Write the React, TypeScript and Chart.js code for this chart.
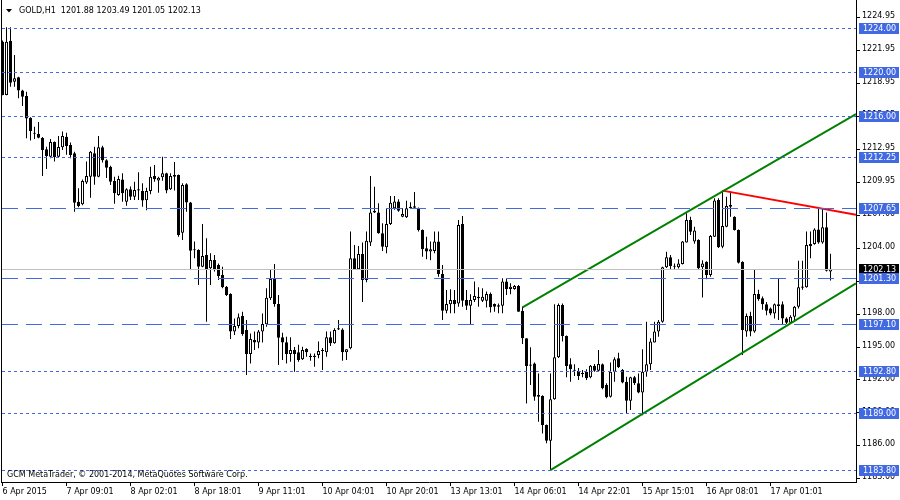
import React, { useEffect, useRef } from "react";
import { Chart, registerables } from "chart.js";

Chart.register(...registerables);

const FONT = "'DejaVu Sans', Verdana, sans-serif";

const TITLE = "GOLD,H1  1201.88 1203.49 1201.05 1202.13";
const COPYRIGHT = "GCM MetaTrader, \u00A9 2001-2014, MetaQuotes Software Corp.";

const OPEN = [1222.78,1217.93,1222.87,1219.14,1219.54,1218.33,1217.84,1215.87,1214.4,1214.38,
1214.02,1213.0,1212.32,1213.65,1212.32,1213.17,1214.14,1213.38,1212.62,1208.22,
1207.98,1209.98,1210.5,1212.62,1210.5,1213.17,1212.0,1211.4,1210.1,1208.83,
1210.25,1208.22,1209.35,1208.68,1209.23,1209.2,1208.35,1209.2,1210.56,1210.14,
1210.44,1210.8,1209.35,1210.65,1210.65,1205.4,1209.8,1208.16,1203.8,1203.83,
1202.31,1203.37,1202.16,1202.92,1202.46,1201.55,1200.49,1199.82,1196.4,1196.91,
1197.82,1196.55,1194.36,1195.64,1195.4,1196.4,1197.06,1199.43,1201.25,1198.91,
1195.88,1195.43,1194.36,1194.73,1194.52,1193.88,1194.82,1194.1,1194.1,1194.27,
1194.64,1194.52,1195.88,1195.34,1196.6,1196.6,1194.52,1194.88,1203.07,1202.07,
1203.46,1201.1,1204.5,1207.4,1207.25,1205.34,1204.07,1206.2,1207.62,1208.23,
1206.86,1206.8,1207.62,1207.8,1207.62,1205.65,1203.98,1203.68,1203.74,1204.59,
1201.64,1198.31,1198.9,1199.28,1198.97,1206.2,1199.28,1198.76,1199.28,1199.58,
1199.2,1199.2,1199.83,1198.92,1198.8,1198.76,1200.95,1200.28,1200.28,1200.55,
1198.28,1195.79,1193.3,1193.5,1190.63,1190.54,1187.9,1186.48,1190.24,1194.06,
1198.82,1196.0,1193.42,1192.9,1192.82,1192.6,1192.76,1192.24,1193.3,1192.85,
1193.42,1191.54,1190.48,1192.76,1193.97,1192.9,1191.85,1190.12,1192.24,1191.7,
1190.85,1192.76,1193.42,1195.4,1196.4,1197.3,1202.25,1203.16,1202.4,1202.25,
1202.55,1204.5,1206.56,1204.6,1204.74,1202.25,1202.76,1201.55,1205.04,1208.38,
1204.13,1205.95,1207.92,1206.86,1205.65,1202.76,1196.4,1197.82,1196.4,1199.82,
1199.43,1198.9,1198.5,1198.06,1198.9,1198.9,1197.6,1197.2,1197.76,1198.67,
1200.4,1200.43,1204.2,1204.37,1205.7,1204.5,1205.9,1201.88];

const HIGH = [1222.9,1224.09,1224.09,1221.57,1219.6,1218.4,1218.23,1215.9,1215.05,1215.47,
1214.1,1213.23,1213.93,1213.7,1214.2,1214.6,1214.5,1213.6,1212.77,1209.44,
1210.25,1211.87,1212.83,1213.23,1214.2,1213.32,1212.08,1211.5,1210.5,1210.59,
1210.8,1209.44,1209.6,1210.04,1210.9,1209.9,1209.5,1211.4,1211.56,1210.5,
1212.32,1210.86,1210.8,1211.83,1210.7,1209.89,1209.9,1208.2,1204.59,1203.9,
1206.2,1204.89,1203.52,1203.37,1202.6,1202.3,1200.55,1199.9,1197.6,1198.06,
1198.2,1197.46,1196.24,1196.4,1196.55,1198.06,1200.34,1202.07,1202.55,1199.73,
1196.3,1195.94,1195.88,1195.0,1195.2,1195.03,1194.88,1194.42,1194.4,1195.49,
1194.9,1196.4,1196.4,1196.7,1197.46,1196.7,1194.8,1205.5,1204.28,1204.19,
1204.5,1205.5,1210.56,1209.59,1208.07,1206.26,1207.62,1208.74,1208.74,1208.44,
1207.62,1208.3,1208.17,1209.1,1207.7,1205.7,1205.04,1204.59,1205.5,1205.5,
1202.46,1200.19,1200.25,1200.19,1206.56,1206.92,1200.19,1199.8,1200.95,1200.43,
1200.34,1200.04,1199.95,1198.95,1198.97,1201.25,1201.25,1200.8,1200.65,1200.65,
1198.67,1195.8,1194.97,1193.6,1192.6,1190.6,1187.95,1192.6,1198.88,1198.97,
1198.97,1196.05,1193.97,1193.42,1193.1,1192.9,1192.97,1193.36,1193.45,1194.73,
1193.5,1191.7,1193.58,1194.06,1194.48,1193.0,1192.3,1192.3,1192.36,1192.6,
1194.8,1197.3,1195.79,1197.3,1197.46,1202.3,1203.67,1203.37,1202.6,1202.98,
1204.65,1207.16,1206.86,1205.95,1204.8,1202.9,1202.8,1205.2,1208.53,1208.53,
1209.23,1208.68,1209.14,1206.9,1205.7,1202.8,1198.06,1198.2,1202.07,1200.2,
1199.6,1199.1,1198.6,1198.97,1201.25,1199.13,1197.7,1197.9,1198.73,1202.86,
1202.86,1205.5,1205.5,1205.8,1207.62,1207.62,1207.25,1203.49];

const LOW = [1217.9,1217.9,1218.69,1218.69,1217.63,1216.93,1213.99,1213.78,1213.93,1213.99,
1210.56,1211.2,1212.17,1211.87,1212.2,1212.93,1212.5,1212.17,1207.3,1207.71,
1207.9,1209.83,1208.59,1209.77,1210.45,1211.8,1210.38,1209.74,1208.04,1208.77,
1208.22,1207.86,1208.38,1208.38,1208.38,1207.77,1207.44,1208.9,1210.04,1209.04,
1210.13,1208.98,1209.29,1209.23,1205.04,1204.74,1207.3,1202.0,1203.07,1200.64,
1202.25,1197.3,1200.64,1201.86,1201.1,1200.34,1199.65,1195.73,1196.1,1196.7,
1196.03,1192.45,1193.51,1194.73,1194.88,1195.4,1196.85,1199.28,1198.67,1193.36,
1193.82,1193.51,1193.67,1192.76,1193.67,1193.82,1194.12,1193.76,1193.2,1193.97,
1192.9,1194.12,1195.09,1195.3,1196.55,1193.76,1193.82,1194.8,1202.0,1202.0,
1199.1,1200.9,1204.19,1207.2,1205.3,1203.74,1203.53,1206.1,1207.5,1207.3,
1206.8,1206.75,1207.6,1207.6,1205.5,1203.22,1202.98,1202.9,1203.53,1201.4,
1197.46,1198.07,1198.07,1198.07,1198.67,1198.67,1198.37,1197.0,1199.1,1198.67,
1199.1,1198.6,1198.13,1198.2,1198.07,1198.07,1199.73,1199.8,1200.2,1198.2,
1195.27,1189.87,1191.54,1190.12,1188.2,1187.14,1186.24,1183.8,1190.2,1194.0,
1195.49,1192.24,1191.85,1192.36,1192.0,1192.24,1192.0,1192.15,1192.76,1192.76,
1191.15,1190.33,1190.4,1191.85,1193.1,1191.7,1188.9,1189.27,1191.54,1190.8,
1188.78,1192.3,1192.9,1195.4,1195.94,1197.2,1202.2,1202.07,1202.07,1202.15,
1202.5,1204.5,1205.19,1204.4,1202.07,1199.5,1201.16,1201.4,1205.0,1204.0,
1203.98,1205.9,1206.86,1205.6,1202.6,1194.27,1195.94,1195.98,1196.3,1199.2,
1198.4,1197.9,1197.9,1197.6,1197.46,1197.1,1197.1,1197.1,1197.46,1198.5,
1200.2,1200.4,1203.07,1204.3,1204.4,1204.4,1201.86,1201.05];

const CLOSE = [1217.93,1222.78,1219.05,1219.45,1218.33,1217.78,1215.8,1214.65,1214.5,1214.05,
1212.93,1212.38,1213.65,1212.26,1213.2,1214.2,1213.29,1212.47,1208.13,1207.83,
1210.1,1210.56,1212.77,1210.5,1213.17,1212.0,1211.32,1210.04,1208.98,1210.28,
1208.98,1209.35,1208.68,1209.29,1209.35,1208.32,1209.2,1210.5,1210.26,1210.4,
1210.8,1209.23,1210.56,1210.5,1205.19,1209.74,1208.16,1203.77,1203.9,1202.31,
1203.28,1202.1,1202.92,1202.1,1201.46,1200.43,1199.73,1196.4,1196.91,1197.7,
1196.18,1194.36,1195.73,1195.4,1196.4,1197.1,1199.49,1201.19,1198.91,1195.85,
1195.4,1194.36,1194.73,1194.36,1193.82,1194.73,1194.52,1194.2,1194.2,1194.64,
1194.7,1195.88,1195.34,1196.55,1196.7,1194.52,1194.79,1203.07,1202.1,1203.46,
1201.1,1204.68,1207.25,1207.25,1205.34,1204.13,1206.2,1208.13,1208.23,1207.4,
1207.1,1207.62,1207.77,1207.68,1205.65,1203.89,1203.68,1203.89,1204.59,1201.64,
1198.31,1198.92,1199.28,1198.9,1206.1,1199.2,1198.76,1199.28,1199.64,1199.43,
1199.58,1199.83,1198.61,1198.67,1198.67,1200.95,1200.28,1200.49,1200.55,1198.2,
1195.79,1193.27,1193.4,1190.48,1190.48,1187.9,1186.48,1190.24,1194.06,1198.82,
1196.0,1193.27,1192.97,1192.85,1192.36,1192.55,1192.15,1193.3,1192.85,1193.45,
1191.24,1190.42,1192.76,1193.88,1193.15,1191.76,1190.12,1192.24,1191.7,1190.85,
1192.76,1193.42,1195.49,1196.4,1197.3,1202.25,1203.16,1202.37,1202.3,1202.61,
1204.59,1206.56,1205.49,1205.6,1202.16,1202.6,1201.55,1205.1,1208.32,1204.07,
1206.0,1207.83,1207.77,1205.65,1202.67,1196.55,1197.82,1196.4,1199.82,1199.34,
1198.9,1198.3,1198.06,1198.9,1198.73,1197.6,1197.2,1197.76,1198.67,1200.43,
1200.5,1204.28,1204.37,1205.7,1204.5,1205.9,1201.95,1202.13];

// x-axis tick labels (bar index -> text)
const TICK_INDEX = [0, 16, 32, 48, 64, 80, 96, 112, 128, 144, 160, 176, 192];
const TICK_LABELS = ["6 Apr 2015", "7 Apr 09:01", "8 Apr 02:01", "8 Apr 18:01", "9 Apr 11:01",
  "10 Apr 04:01", "10 Apr 20:01", "13 Apr 13:01", "14 Apr 06:01", "14 Apr 22:01",
  "15 Apr 15:01", "16 Apr 08:01", "17 Apr 01:01"];

// price-axis tick labels
const Y_TICKS = [1224.95, 1221.95, 1218.95, 1215.95, 1212.95, 1209.95, 1207.0, 1204.0,
  1201.0, 1198.0, 1195.0, 1192.0, 1189.0, 1186.0, 1183.0];

// horizontal levels
const DOT_LEVELS = [1224.0, 1220.0, 1216.0, 1212.25, 1192.8, 1189.0, 1183.8];
const DASH_LEVELS = [1207.65, 1201.3, 1197.1];
const BID = 1202.13;

// trend lines: [barIndex, price]
const CHANNEL_UPPER = [[130, 1198.6], [213.375, 1216.2]];
const CHANNEL_LOWER = [[137, 1183.8], [213.375, 1200.79]];
const RESIST_LINE = [[180, 1209.23], [213.375, 1207.04]];

const X_MIN = -0.125;
const X_MAX = 213.375;
const Y_MIN = 1182.717;
const Y_MAX = 1226.575;

const overlay = {
  id: "mt4overlay",
  afterDatasetsDraw(chart: any) {
    const { ctx, chartArea: a, scales } = chart;
    const y = scales.y;
    ctx.save();
    ctx.beginPath();
    ctx.rect(a.left, a.top, a.right - a.left, a.bottom - a.top);
    ctx.clip();
    ctx.lineWidth = 1;
    const hline = (v: number, color: string, dash: number[]) => {
      const py = Math.round(y.getPixelForValue(v)) + 0.5;
      ctx.strokeStyle = color;
      ctx.setLineDash(dash);
      ctx.beginPath();
      ctx.moveTo(a.left, py);
      ctx.lineTo(a.right, py);
      ctx.stroke();
    };
    hline(BID, "#c0c0c0", []);
    DOT_LEVELS.forEach((v) => hline(v, "#4169e1", [3, 3]));
    DASH_LEVELS.forEach((v) => hline(v, "#4169e1", [16, 8]));
    ctx.restore();
  },
  afterDraw(chart: any) {
    const { ctx, chartArea: a, scales } = chart;
    const y = scales.y;
    ctx.save();
    // left frame
    ctx.strokeStyle = "#000";
    ctx.lineWidth = 1;
    ctx.beginPath();
    ctx.moveTo(a.left - 0.5, a.top);
    ctx.lineTo(a.left - 0.5, a.bottom + 1);
    ctx.stroke();
    ctx.font = "8px " + FONT;
    ctx.textBaseline = "middle";
    ctx.textAlign = "left";
    const box = (v: number, bg: string) => {
      const py = Math.round(y.getPixelForValue(v));
      ctx.fillStyle = bg;
      ctx.fillRect(a.right + 3, py - 5, 900 - a.right - 4, 11);
      ctx.fillStyle = "#fff";
      ctx.fillText(v.toFixed(2), a.right + 7, py + 0.5);
    };
    box(BID, "#000");
    [...DOT_LEVELS, ...DASH_LEVELS].forEach((v) => box(v, "#4169e1"));
    // title
    ctx.fillStyle = "#000";
    ctx.beginPath();
    ctx.moveTo(6, 9);
    ctx.lineTo(12, 9);
    ctx.lineTo(9, 12.5);
    ctx.closePath();
    ctx.fill();
    ctx.fillText(TITLE, 19, 11);
    ctx.fillText(COPYRIGHT, 7, 475);
    ctx.restore();
  },
};

export default function App() {
  const ref = useRef<HTMLCanvasElement | null>(null);
  useEffect(() => {
    document.body.style.margin = "0";
    const canvas = ref.current;
    if (!canvas) return;
    const bodies = OPEN.map((o, i) => ({ x: i, y: [o, CLOSE[i]] }));
    const wicks = LOW.map((l, i) => ({ x: i, y: [l, HIGH[i]] }));
    const bodyColors = OPEN.map((o, i) => (CLOSE[i] >= o ? "#ffffff" : "#000000"));
    const toPts = (arr: number[][]) => arr.map(([x, v]) => ({ x, y: v }));
    const lineDs = (pts: number[][], color: string) => ({
      type: "line",
      data: toPts(pts),
      borderColor: color,
      borderWidth: 2,
      pointRadius: 0,
      fill: false,
      tension: 0,
    });
    const chart = new Chart(canvas, {
      type: "bar",
      data: {
        datasets: [
          lineDs(CHANNEL_UPPER, "#008000"),
          lineDs(CHANNEL_LOWER, "#008000"),
          lineDs(RESIST_LINE, "#ff0000"),
          {
            type: "bar",
            data: bodies,
            backgroundColor: bodyColors,
            borderColor: "#000",
            borderWidth: 1,
            barThickness: 3,
            grouped: false,
            borderSkipped: false,
            minBarLength: 1,
            inflateAmount: 0,
          },
          {
            type: "bar",
            data: wicks,
            backgroundColor: "#000",
            borderWidth: 0,
            barThickness: 1,
            grouped: false,
            borderSkipped: false,
            inflateAmount: 0,
          },
        ] as any,
      },
      options: {
        animation: false,
        responsive: false,
        devicePixelRatio: 1,
        events: [],
        layout: { padding: { left: 2, top: 0, right: 0, bottom: 0 } },
        plugins: { legend: { display: false }, tooltip: { enabled: false }, title: { display: false } },
        scales: {
          x: {
            type: "linear",
            min: X_MIN,
            max: X_MAX,
            offset: false,
            grid: { drawOnChartArea: false, drawTicks: true, tickLength: 4, color: "#000", offset: false },
            border: { display: true, color: "#000" },
            ticks: {
              autoSkip: false,
              maxRotation: 0,
              minRotation: 0,
              align: "start",
              padding: 1,
              color: "#000",
              font: { family: FONT, size: 8 },
              callback: (v: any) => {
                const k = TICK_INDEX.indexOf(Number(v));
                return k >= 0 ? TICK_LABELS[k] : "";
              },
            },
            afterBuildTicks: (s: any) => {
              s.ticks = TICK_INDEX.map((v) => ({ value: v }));
            },
            afterFit: (s: any) => {
              s.height = 18;
              s.paddingLeft = 0;
              s.paddingRight = 0;
            },
          },
          y: {
            type: "linear",
            position: "right",
            min: Y_MIN,
            max: Y_MAX,
            grid: { drawOnChartArea: false, drawTicks: true, tickLength: 4, color: "#000" },
            border: { display: true, color: "#000" },
            ticks: {
              autoSkip: false,
              padding: 2,
              labelOffset: -1.5,
              color: "#000",
              font: { family: FONT, size: 8 },
              callback: (v: any) => Number(v).toFixed(2),
            },
            afterBuildTicks: (s: any) => {
              s.ticks = Y_TICKS.map((v) => ({ value: v }));
            },
            afterFit: (s: any) => {
              s.width = 44;
              s.paddingTop = 0;
              s.paddingBottom = 0;
            },
          },
        },
      } as any,
      plugins: [overlay],
    } as any);
    return () => chart.destroy();
  }, []);
  return (
    <div style={{ width: 900, height: 500, background: "#fff" }}>
      <canvas ref={ref} width={900} height={500} style={{ display: "block" }} />
    </div>
  );
}
